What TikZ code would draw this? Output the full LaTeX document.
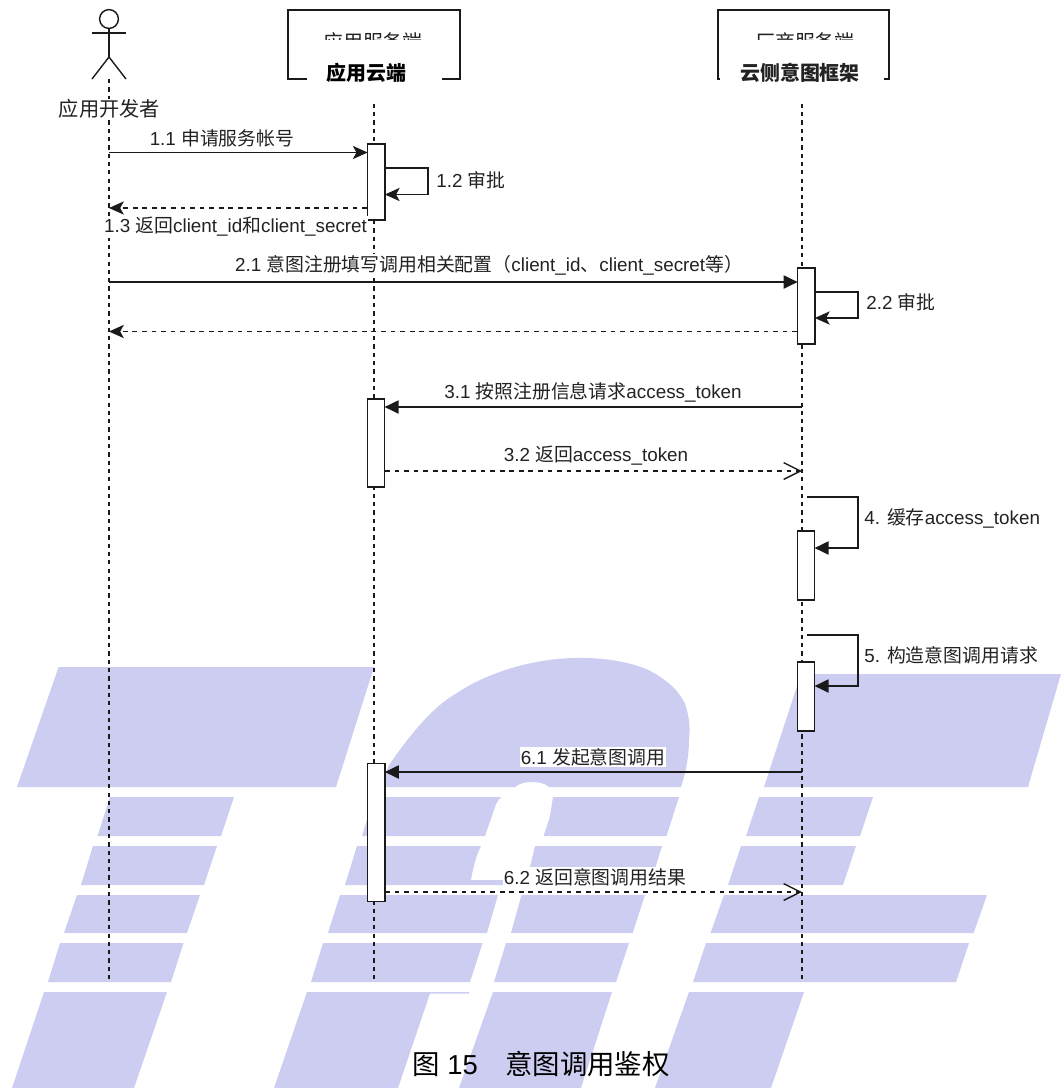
\documentclass[tikz,border=0pt]{standalone}
\usepackage{fontspec}
\usepackage{xcolor}
\usepackage{tikz}
\usetikzlibrary{arrows.meta, calc}
\setmainfont{Liberation Sans}
\newfontfamily\cjk{Noto Sans CJK SC}
\newcommand{\zh}[1]{{\cjk #1}}
\definecolor{wmarkblue}{HTML}{CDCDF2}
\definecolor{seqline}{HTML}{1A1A1A}
\definecolor{seqtext}{HTML}{222222}

\begin{document}
\begin{tikzpicture}[
  x=0.025cm, y=-0.025cm,
  wmark/.style={fill=wmarkblue, draw=none},
  lifeline/.style={draw=seqline, line width=1pt, dash pattern=on 3pt off 2.9pt},
  headbox/.style={draw=seqline, line width=1pt},
  actbox/.style={draw=seqline, fill=white, line width=1pt, minimum width=0.43cm, inner sep=0pt, outer sep=0pt},
  msg/.style={draw=seqline, line width=1pt, -{Stealth[length=0.37cm, width=0.33cm, inset=0.09cm]}},
  blockmsg/.style={draw=seqline, line width=1pt, -{Triangle[length=0.35cm, width=0.33cm]}},
  retmsg/.style={msg, dash pattern=on 3.4pt off 3.4pt},
  openmsg/.style={draw=seqline, line width=1pt, dash pattern=on 3.4pt off 3.4pt, -{Straight Barb[length=0.42cm, width=0.42cm, line width=1pt]}},
  msglabel/.style={font=\fontsize{13.4}{15}\selectfont, text=seqtext, fill=white, inner sep=0.8pt},
  sidelabel/.style={msglabel, anchor=west},
  headcover/.style={fill=white, inner sep=0pt, minimum height=1.55cm, font=\fontsize{14.2}{17}\selectfont\bfseries},
  headback/.style={font=\fontsize{14.2}{17}\selectfont, text=seqtext, inner sep=0pt}
]
\useasboundingbox (0,0) rectangle (1061,1088);

% watermark, first letter
\fill[wmark] (58.6,667) -- (374,667) -- (336,787) -- (17,787) -- cycle;
\fill[wmark] (110,797) -- (234,797) -- (221,836) -- (97.5,836) -- cycle;
\fill[wmark] (93,846) -- (217,846) -- (204,885) -- (81,885) -- cycle;
\fill[wmark] (77,895) -- (200,895) -- (187,933) -- (64,933) -- cycle;
\fill[wmark] (60,943) -- (183.5,943) -- (171,982) -- (48,982) -- cycle;
\fill[wmark] (44,992) -- (167,992) -- (134,1088) -- (12,1088) -- cycle;

% watermark, second letter
\fill[wmark] (380,787) -- (389,765) .. controls (405,742) and (430,708) .. (457,693)
  .. controls (480,677) and (530,656) .. (588,658)
  .. controls (615,659) and (635,664) .. (648.5,670)
  .. controls (660,676) and (668,682) .. (676,690)
  .. controls (682,698) and (685,702) .. (686,707)
  .. controls (690,720) and (690,730) .. (689,740)
  .. controls (689,755) and (686,772) .. (681,787)
  -- (549,787) .. controls (545,783) and (538,782) .. (530,782)
  .. controls (524,782) and (519,784) .. (515,787) -- cycle;
\fill[wmark] (374,797) -- (501,797) .. controls (497,801) and (495,806) .. (494,810) -- (485,836) -- (362,836) -- cycle;
\fill[wmark] (553,797) -- (679,797) -- (666.5,836) -- (543.5,836) .. controls (547,826) and (550,818) .. (551,810) -- cycle;
\fill[wmark] (357,846) -- (481,846) .. controls (476,856) and (473,868) .. (471,880) -- (527,880) -- (535,846) -- (662,846) -- (650,885) -- (345,885) -- cycle;
\fill[wmark] (340,895) -- (498,895) -- (487,933) -- (328,933) -- cycle;
\fill[wmark] (521.5,895) -- (645,895) -- (632.6,933) -- (511,933) -- cycle;
\fill[wmark] (323,943) -- (482.6,943) -- (470,982) -- (311,982) -- cycle;
\fill[wmark] (506,943) -- (629,943) -- (616,982) -- (494,982) -- cycle;
\fill[wmark] (307,992) -- (469,992) -- (469,993.5) -- (430,993.5) -- (398,1088) -- (274,1088) -- cycle;
\fill[wmark] (493,992) -- (612,992) -- (581,1088) -- (459,1088) -- cycle;

% watermark, third letter
\fill[wmark] (801,674) -- (1061,674) -- (1028,787) -- (764,787) -- cycle;
\fill[wmark] (759,797) -- (873,797) -- (860,836) -- (746,836) -- cycle;
\fill[wmark] (741,846) -- (856,846) -- (843,885) -- (728,885) -- cycle;
\fill[wmark] (724,895) -- (987,895) -- (973.6,933) -- (710.5,933) -- cycle;
\fill[wmark] (706,943) -- (969,943) -- (956,982) -- (693,982) -- cycle;
\fill[wmark] (689,992) -- (804,992) -- (771,1088) -- (655,1088) -- cycle;

% lifelines
\coordinate (devtop) at (109,79);
\coordinate (devend) at (109,982);
\coordinate (apptop) at (374,79);
\coordinate (append) at (374,982);
\coordinate (cloudtop) at (802,79);
\coordinate (cloudend) at (802,982);
\draw[lifeline] (devtop) -- (devend);
\draw[lifeline] (apptop) -- (append);
\draw[lifeline] (cloudtop) -- (cloudend);

% developer figure
\node[circle, draw=seqline, fill=white, line width=1pt, minimum size=0.47cm, inner sep=0pt] (devhead) at (109,19) {};
\coordinate (devhip) at (109,57);
\coordinate (devarml) at (92,33);
\coordinate (devarmr) at (126,33);
\coordinate (devlegl) at (92,79);
\coordinate (devlegr) at (126,79);
\draw[headbox] (devhead.south) -- (devhip);
\draw[headbox] (devarml) -- (devarmr);
\draw[headbox] (devlegl) -- (devhip) -- (devlegr);
\node[fill=white, inner sep=0.5pt, font=\fontsize{14.4}{17}\selectfont, text=seqtext] (devlabel) at (109.5,109) {\zh{应用开发者}};

% head boxes
\node[headbox, fill=white, minimum width=4.3cm, minimum height=1.725cm, inner sep=0pt] (appbox) at (374,44.5) {};
\node[headbox, fill=white, minimum width=4.275cm, minimum height=1.725cm, inner sep=0pt] (cloudbox) at (803.5,44.5) {};
\node[headback] (appback) at (373,42) {\zh{应用服务端}};
\node[headback] (cloudback) at (805,42) {\zh{厂商服务端}};
\node[headcover, minimum width=3.375cm] (apphead) at (374.5,71) {};
\node[headcover, minimum width=4.1cm] (cloudhead) at (802,71) {};
\node[font=\fontsize{14.2}{17}\selectfont\bfseries, inner sep=0pt] (appname) at (366.5,73) {\zh{应用云端}};
\node[font=\fontsize{14.2}{17}\selectfont\bfseries, text=seqtext, inner sep=0pt] (cloudname) at (800,73) {\zh{云侧意图框架}};

% activation boxes
\node[actbox, minimum height=1.9cm] (act1) at (376.25,182) {};
\node[actbox, minimum height=1.9cm] (act2) at (806.25,306) {};
\node[actbox, minimum height=2.2cm] (act3) at (376,443) {};
\node[actbox, minimum height=1.725cm] (act4) at (806,565.5) {};
\node[actbox, minimum height=1.725cm] (act5) at (806,696.5) {};
\node[actbox, minimum height=3.45cm] (act6) at (376.25,832.5) {};

% messages
\coordinate (m11) at (109,152.5);
\draw[msg] (m11) -- (m11 -| act1.west);
\node[msglabel] (l11) at (222,138) {1.1 \zh{申请服务帐号}};

\coordinate (m12) at (385,168);
\coordinate (m12b) at (428,194.5);
\draw[msg] (m12) -| (m12b) -- (m12b -| act1.east);
\node[sidelabel] (l12) at (435,180) {1.2 \zh{审批}};

\coordinate (m13) at (367,208);
\draw[retmsg] (m13) -- (m13 -| devend);
\node[msglabel] (l13) at (235.5,227) {1.3 \zh{返回}client\_id\zh{和}client\_secret};

\coordinate (m21) at (109,282);
\draw[blockmsg] (m21) -- (m21 -| act2.west);
\node[msglabel] (l21) at (489,265) {2.1 \zh{意图注册填写调用相关配置（}client\_id\zh{、}client\_secret\zh{等）}};

\coordinate (m22) at (815,292);
\coordinate (m22b) at (858,318);
\draw[msg] (m22) -| (m22b) -- (m22b -| act2.east);
\node[sidelabel] (l22) at (865,302) {2.2 \zh{审批}};

\coordinate (m23) at (797,331.5);
\draw[retmsg] (m23) -- (m23 -| devend);

\coordinate (m31) at (802,407);
\draw[blockmsg] (m31) -- (m31 -| act3.east);
\node[msglabel] (l31) at (593,392) {3.1 \zh{按照注册信息请求}access\_token};

\coordinate (m32) at (385,471);
\draw[openmsg] (m32) -- (m32 -| cloudend);
\node[msglabel] (l32) at (596,456) {3.2 \zh{返回}access\_token};

\coordinate (m4) at (807,497);
\coordinate (m4b) at (858,548);
\draw[blockmsg] (m4) -| (m4b) -- (m4b -| act4.east);
\node[sidelabel] (l4) at (863,518) {4. \zh{缓存}access\_token};

\coordinate (m5) at (807,635);
\coordinate (m5b) at (858,686);
\draw[blockmsg] (m5) -| (m5b) -- (m5b -| act5.east);
\node[sidelabel] (l5) at (863,655) {5. \zh{构造意图调用请求}};

\coordinate (m61) at (802,772);
\draw[blockmsg] (m61) -- (m61 -| act6.east);
\node[msglabel] (l61) at (593,757) {6.1 \zh{发起意图调用}};

\coordinate (m62) at (385,892);
\draw[openmsg] (m62) -- (m62 -| cloudend);
\node[msglabel] (l62) at (595,877) {6.2 \zh{返回意图调用结果}};

\node[font=\fontsize{19.5}{23}\selectfont, text=black, inner sep=0pt] (caption) at (541,1064) {\zh{图} 15\hspace{1em}\zh{意图调用鉴权}};
\end{tikzpicture}
\end{document}
